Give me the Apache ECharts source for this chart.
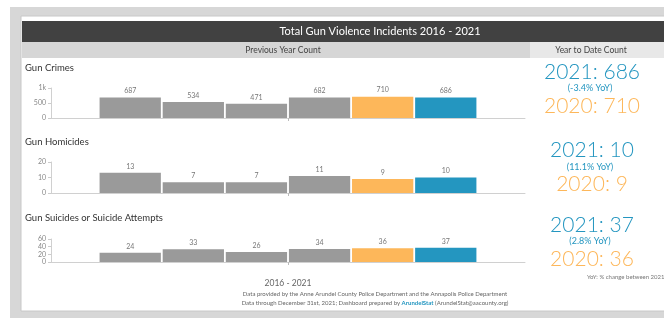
<!DOCTYPE html>
<html><head><meta charset="utf-8">
<script src="https://cdn.jsdelivr.net/npm/echarts@6/dist/echarts.min.js"></script>
<style>html,body{margin:0;padding:0;background:#fff}#c{width:664px;height:318px}</style>
</head><body><div id="c"></div>
<script>
const years = ['2016', '2017', '2018', '2019', '2020', '2021'];
const categoryLabel = ['2016 - 2021'];
const gunCrimes = [687, 534, 471, 682, 710, 686];
const gunHomicides = [13, 7, 7, 11, 9, 10];
const gunSuicides = [24, 33, 26, 34, 36, 37];
const crimeAxis = [0, 1000, 500];
const homicideAxis = [0, 20, 10];
const suicideAxis = [0, 60, 20];
const sectionTitles = ['Gun Crimes', 'Gun Homicides', 'Gun Suicides or Suicide Attempts'];
const ytd = [
  ['2021: 686', '(-3.4% YoY)', '2020: 710'],
  ['2021: 10', '(11.1% YoY)', '2020: 9'],
  ['2021: 37', '(2.8% YoY)', '2020: 36']
];

const FONT = 'Lato';
const GRAY = '#9a9a9a', ORANGE = '#fdb75a', BLUE = '#2496c0';
const barColors = [GRAY, GRAY, GRAY, GRAY, ORANGE, BLUE];

const chart = echarts.init(document.getElementById('c'), null, {renderer: 'canvas'});

const grids = [
  {left: 51, top: 88, width: 474, height: 30},
  {left: 51, top: 162, width: 474, height: 31},
  {left: 51, top: 239, width: 474, height: 23}
];
const axes = [crimeAxis, homicideAxis, suicideAxis];
const datasets = [gunCrimes, gunHomicides, gunSuicides];

const xAxis = grids.map((g, i) => ({
  type: 'category', gridIndex: i, data: categoryLabel,
  axisLine: {lineStyle: {color: '#d0d0d0'}},
  axisTick: {show: true, alignWithLabel: true, length: 3, lineStyle: {color: '#bbb'}},
  axisLabel: {show: i === 2, color: '#666', fontSize: 8.5, fontFamily: FONT, margin: 17}
}));
const yAxis = grids.map((g, i) => ({
  type: 'value', gridIndex: i, min: axes[i][0], max: axes[i][1], interval: axes[i][2],
  axisLine: {show: true, lineStyle: {color: '#d0d0d0'}},
  axisTick: {show: true, length: 3, lineStyle: {color: '#ccc'}},
  splitLine: {show: false},
  axisLabel: {color: '#888', fontSize: 7, fontFamily: FONT, margin: 5,
    formatter: v => v >= 1000 ? (v / 1000) + 'k' : v}
}));
const series = [];
datasets.forEach((arr, gi) => {
  arr.forEach((v, k) => {
    series.push({
      type: 'bar', name: years[k], xAxisIndex: gi, yAxisIndex: gi,
      data: [v], barGap: '3%', barCategoryGap: '20.5%',
      itemStyle: {color: barColors[k]},
      label: {show: true, position: 'top', distance: 3, color: '#777', fontSize: 7, fontFamily: FONT},
      silent: true, animation: false
    });
  });
});

const graphic = [
  {type: 'rect', shape: {x: 10, y: 7, width: 660, height: 320}, style: {fill: '#d7d7d7'}, z: -10},
  {type: 'rect', shape: {x: 21, y: 16, width: 650, height: 295}, style: {fill: '#fff', stroke: '#c8c8c8', lineWidth: 1}, z: -9},
  {type: 'rect', shape: {x: 22, y: 21, width: 650, height: 21}, style: {fill: '#414141'}, z: -8},
  {type: 'rect', shape: {x: 22, y: 42, width: 508, height: 16}, style: {fill: '#d6d6d6'}, z: -8},
  {type: 'rect', shape: {x: 530, y: 42, width: 140, height: 16}, style: {fill: '#e8e8e8'}, z: -8},
  {type: 'text', x: 380, y: 31.5, style: {text: 'Total Gun Violence Incidents 2016 - 2021', fill: '#fff', font: '11px ' + FONT, textAlign: 'center', textVerticalAlign: 'middle'}},
  {type: 'text', x: 283, y: 50, style: {text: 'Previous Year Count', fill: '#444', font: '8.5px ' + FONT, textAlign: 'center', textVerticalAlign: 'middle'}},
  {type: 'text', x: 591, y: 50, style: {text: 'Year to Date Count', fill: '#444', font: '8.5px ' + FONT, textAlign: 'center', textVerticalAlign: 'middle'}},
  {type: 'text', x: 375, y: 294, style: {text: 'Data provided by the Anne Arundel County Police Department and the Annapolis Police Department', fill: '#666', font: '6px ' + FONT, textAlign: 'center', textVerticalAlign: 'middle'}},
  {type: 'text', x: 375, y: 303, style: {
    text: '{n|Data through December 31st, 2021; Dashboard prepared by }{b|ArundelStat}{n| (ArundelStat@aacounty.org)}',
    textAlign: 'center', textVerticalAlign: 'middle',
    rich: {n: {fill: '#666', font: '6px ' + FONT}, b: {fill: BLUE, font: 'bold 6px ' + FONT}}}},
  {type: 'text', x: 587, y: 277, style: {text: 'YoY: % change between 2021', fill: '#777', font: '6px ' + FONT, textAlign: 'left', textVerticalAlign: 'middle'}}
];
const titleYs = [68, 142, 218];
sectionTitles.forEach((t, i) => graphic.push({type: 'text', x: 25, y: titleYs[i], style: {text: t, fill: '#333', font: '9.5px ' + FONT, textAlign: 'left', textVerticalAlign: 'middle'}}));
const ytdYs = [[72, 88, 106], [150, 167, 184], [225, 241, 259]];
ytd.forEach((r, i) => {
  graphic.push({type: 'text', x: 592, y: ytdYs[i][0], style: {text: r[0], fill: BLUE, font: '300 21px ' + FONT, textAlign: 'center', textVerticalAlign: 'middle'}});
  graphic.push({type: 'text', x: 590, y: ytdYs[i][1], style: {text: r[1], fill: BLUE, font: '9px ' + FONT, textAlign: 'center', textVerticalAlign: 'middle'}});
  graphic.push({type: 'text', x: 592, y: ytdYs[i][2], style: {text: r[2], fill: ORANGE, font: '300 21px ' + FONT, textAlign: 'center', textVerticalAlign: 'middle'}});
});

chart.setOption({
  animation: false,
  backgroundColor: '#fff',
  grid: grids,
  xAxis: xAxis,
  yAxis: yAxis,
  series: series,
  graphic: graphic
});
</script></body></html>
